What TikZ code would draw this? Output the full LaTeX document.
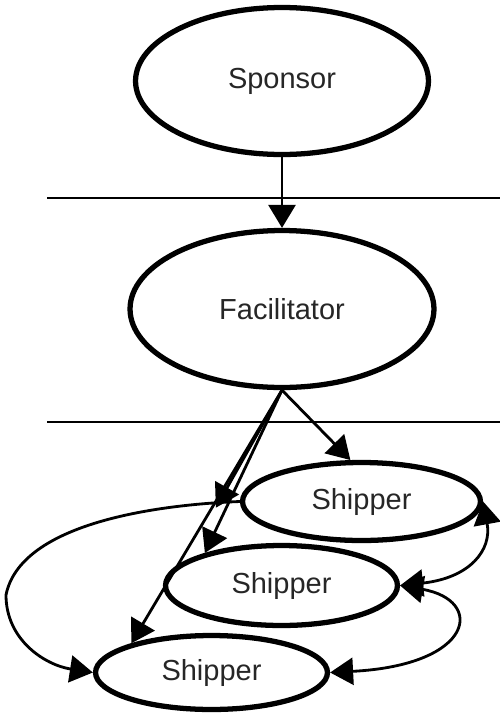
\documentclass[tikz,border=0pt]{standalone}
\usepackage{fontspec}
\setmainfont{Liberation Sans}
\usetikzlibrary{arrows.meta, shapes.geometric}

\begin{document}
\begin{tikzpicture}[
  x=0.02cm, y=-0.02cm,
  font=\fontsize{16.5}{19}\selectfont,
  role/.style={ellipse, draw, line width=3pt, inner sep=0pt, text=black!85},
  ar/.style={line width=1.6pt, -{Triangle[length=4.6mm, width=5.4mm]}},
  both/.style={line width=1.6pt, {Triangle[length=4.6mm, width=5.4mm]}-{Triangle[length=4.6mm, width=5.4mm]}},
  sep/.style={line width=0.9pt}
]
\useasboundingbox (0,0) rectangle (500,714);

% ================= roles =================
\node[role, minimum width=5.86cm, minimum height=2.94cm] (spon) at (282,81) {Sponsor};
\node[role, minimum width=6.08cm, minimum height=3.14cm] (fac) at (282,309) {Facilitator};

\node[role, minimum width=4.76cm, minimum height=1.56cm] (shipA) at (361.5,501.5) {Shipper};
\node[role, minimum width=4.64cm, minimum height=1.60cm] (shipB) at (281.5,585.5) {Shipper};
\node[role, minimum width=4.64cm, minimum height=1.48cm] (shipC) at (211.5,672.5) {Shipper};

% ================= level separators =================
\draw[sep] (47,198) -- (500,198);
\draw[sep] (47,422) -- (500,422);

% ================= hand-offs =================
\draw[ar] (spon.south) -- (fac.north);

\draw[ar] (fac.south) -- (shipA.105);
\draw[ar, shorten >=1.2cm] (fac.south) -- (shipB.165);
\draw[ar] (fac.south) -- (shipB.157);
\draw[ar] (fac.south) -- (shipC.160);

% --- between shippers ---
\draw[ar] (shipA.west) .. controls (150,505) and (20,525) .. (6,595)
                       .. controls (6,640) and (45,665) .. (shipC.west);
\draw[both] (shipB.east) .. controls (470,578) and (492,550) .. (shipA.east);
\draw[both] (shipB.east) .. controls (485,600) and (475,665) .. (shipC.east);

\end{tikzpicture}
\end{document}
